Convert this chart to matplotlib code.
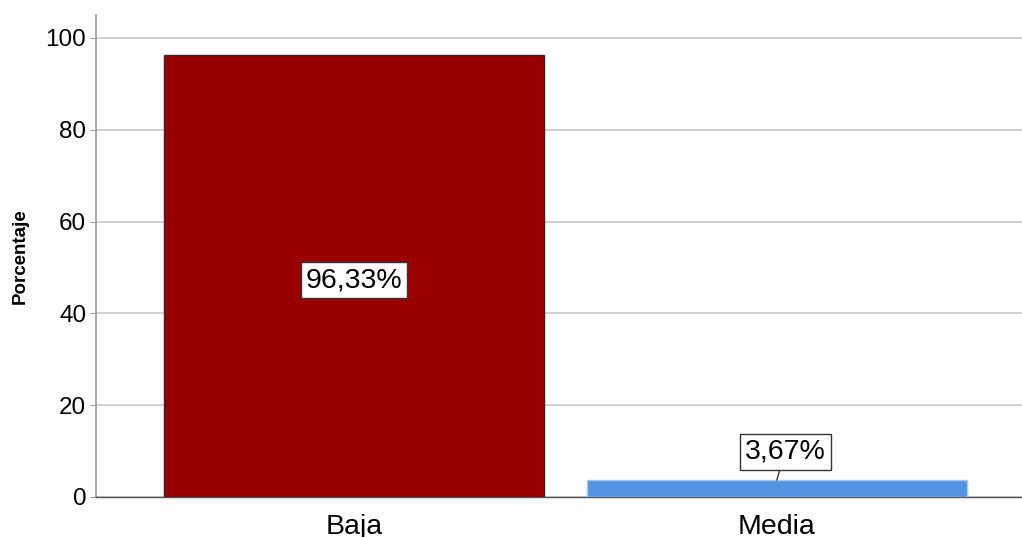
import matplotlib.pyplot as plt

categorias = ["Baja", "Media"]
porcentajes = [96.33, 3.67]
etiquetas = ["96,33%", "3,67%"]

plt.rcParams['font.family'] = ['Liberation Sans', 'DejaVu Sans']

fig = plt.figure(figsize=(10.22, 5.37), dpi=100)
ax = fig.add_axes([0.094, 0.0745, 0.906, 0.8976])

pos = list(range(len(categorias)))
colores = ["#990000", "#5294e2"]
bordes = ["#3a2020", "#a8c8f0"]
ax.bar(pos, porcentajes, width=0.898, color=colores, edgecolor=bordes, linewidth=1.0, zorder=3)

ax.set_xlim(-0.61, 1.58)
ax.set_ylim(0, 105)
ax.set_yticks([0, 20, 40, 60, 80, 100])
ax.set_xticks(pos)
ax.set_xticklabels(categorias)
ax.tick_params(axis='x', length=0, labelsize=20.5, pad=12)
ax.tick_params(axis='y', length=4, width=0.8, color='#999999', labelsize=17.5, pad=3)
ax.set_ylabel("Porcentaje", fontsize=13.5, fontweight='bold', labelpad=12)

ax.grid(axis='y', color='#c8c8c8', linewidth=1.2, zorder=0)
for s in ['top', 'right']:
    ax.spines[s].set_visible(False)
ax.spines['left'].set_color('#999999')
ax.spines['left'].set_linewidth(1.2)
ax.spines['bottom'].set_color('#555555')
ax.spines['bottom'].set_linewidth(1.0)

caja = dict(boxstyle='square,pad=0.18', facecolor='white', edgecolor='#333333', linewidth=1.0)
# etiqueta dentro de la barra grande
ax.text(pos[0], porcentajes[0] * 0.49, etiquetas[0], ha='center', va='center',
        fontsize=20.5, bbox=caja, zorder=5)
# etiqueta sobre la barra pequena con linea guia
ax.annotate(etiquetas[1], xy=(pos[1], porcentajes[1]), xytext=(pos[1] + 0.02, porcentajes[1] + 6.2),
            ha='center', va='center', fontsize=20.5, bbox=caja, zorder=5,
            arrowprops=dict(arrowstyle='-', color='#333333', linewidth=1.0, shrinkA=0, shrinkB=0))

fig.savefig("out.png", dpi=100)
